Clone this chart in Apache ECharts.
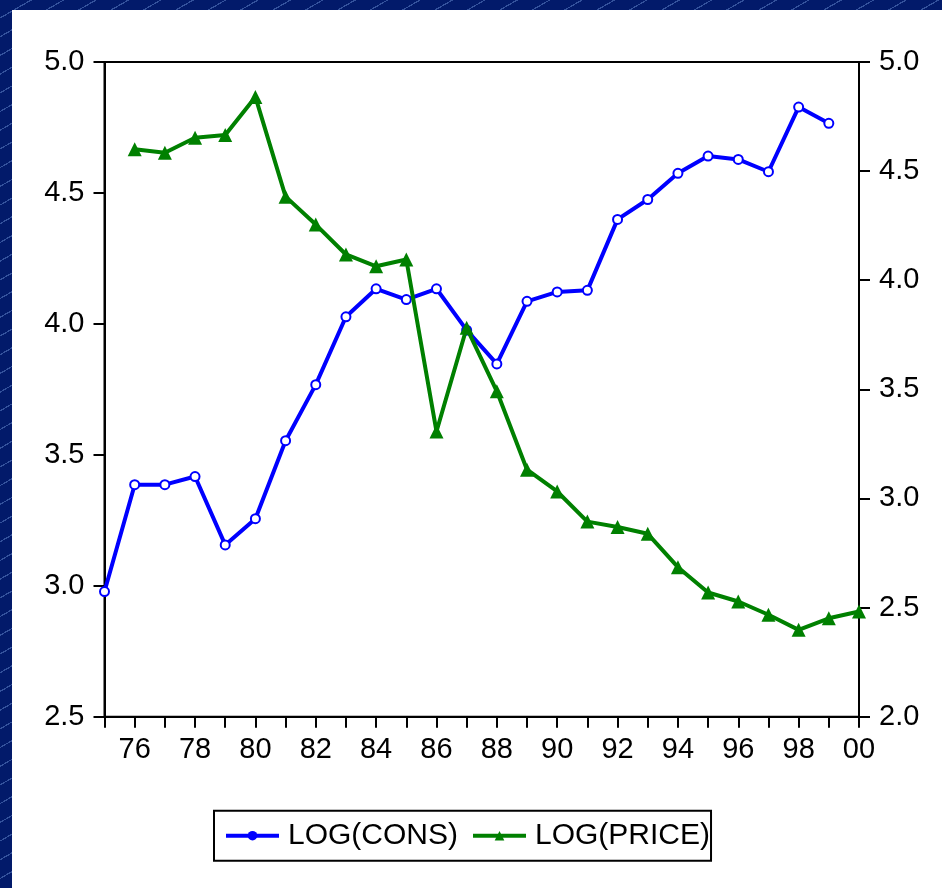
<!DOCTYPE html>
<html>
<head>
<meta charset="utf-8">
<script src="https://cdn.jsdelivr.net/npm/echarts@6/dist/echarts.min.js"></script>
<style>
html,body{margin:0;padding:0;width:942px;height:888px;overflow:hidden;}
body{background:#021a6a repeating-linear-gradient(150deg,#021a6a 0px,#021a6a 15px,#34529c 15px,#34529c 16.2px);}
#chart{position:absolute;left:12px;top:10px;width:930px;height:878px;background:#ffffff;}
</style>
</head>
<body>
<div id="chart"></div>
<script>
// Year categories (two-digit labels), 1975..2000
const years = ['75','76','77','78','79','80','81','82','83','84','85','86','87','88','89','90','91','92','93','94','95','96','97','98','99','00'];
// LOG(CONS): 1975..1999 (left axis)
const logCons = [2.978,3.386,3.386,3.417,3.156,3.256,3.554,3.768,4.027,4.134,4.093,4.134,3.976,3.847,4.086,4.122,4.128,4.399,4.475,4.575,4.641,4.628,4.581,4.828,4.766];
// LOG(PRICE): 1976..2000 (right axis)
const logPrice = [4.600,4.584,4.653,4.665,4.840,4.383,4.255,4.118,4.064,4.095,3.307,3.782,3.491,3.132,3.032,2.894,2.869,2.838,2.685,2.569,2.528,2.467,2.398,2.451,2.482];
// Axis ranges
const leftAxisRange = [2.5, 5.0];
const rightAxisRange = [2.0, 5.0];

const consData = logCons.concat([null]);
const priceData = [null].concat(logPrice);

const FONT = "'Liberation Sans',Arial,sans-serif";
const chart = echarts.init(document.getElementById('chart'), null, {renderer:'canvas'});

const yAxisCommon = {
  type:'value', interval:0.5,
  splitLine:{show:false},
  axisLine:{show:true,lineStyle:{color:'#000',width:2}},
  axisTick:{show:true,length:11,lineStyle:{color:'#000',width:2}},
  axisLabel:{color:'#000',fontFamily:FONT,fontSize:29,margin:20,formatter:v=>v.toFixed(1)}
};

chart.setOption({
  animation:false,
  backgroundColor:'#ffffff',
  grid:{left:92.5,right:83,top:52,bottom:171.3,show:true,borderColor:'#000',borderWidth:2,backgroundColor:'transparent'},
  legend:{
    left:202, top:800.7,
    orient:'horizontal',
    itemWidth:53, itemHeight:12, itemGap:13,
    padding:[10,1,10,10],
    borderColor:'#000', borderWidth:2, borderRadius:0,
    backgroundColor:'#fff',
    lineStyle:{width:4},
    textStyle:{color:'#000',fontFamily:FONT,fontSize:30,padding:[0,0,0,4]},
    data:['LOG(CONS)','LOG(PRICE)']
  },
  xAxis:{
    type:'category', data:years, boundaryGap:false,
    axisLine:{show:true,lineStyle:{color:'#000',width:2}},
    axisTick:{show:true,interval:0,length:11,lineStyle:{color:'#000',width:2}},
    axisLabel:{color:'#000',fontFamily:FONT,fontSize:29,margin:19,interval:(i)=>i%2===1},
    splitLine:{show:false}
  },
  yAxis:[
    Object.assign({}, yAxisCommon, {position:'left', min:leftAxisRange[0], max:leftAxisRange[1]}),
    Object.assign({}, yAxisCommon, {position:'right', min:rightAxisRange[0], max:rightAxisRange[1]})
  ],
  series:[
    {
      // legend-only entry (no data) so the legend shows a filled circle
      name:'LOG(CONS)', type:'line', yAxisIndex:0, data:[],
      symbol:'circle', symbolSize:8,
      lineStyle:{color:'#0000ff',width:4},
      itemStyle:{color:'#0000ff'}
    },
    {
      name:'LOG(CONS)', type:'line', yAxisIndex:0, data:consData,
      symbol:'emptyCircle', symbolSize:9, showSymbol:true,
      lineStyle:{color:'#0000ff',width:4},
      itemStyle:{color:'#0000ff',borderColor:'#0000ff',borderWidth:3},
      connectNulls:false, z:2
    },
    {
      name:'LOG(PRICE)', type:'line', yAxisIndex:1, data:priceData,
      symbol:'triangle', symbolSize:[14,14], showSymbol:true,
      lineStyle:{color:'#008000',width:4},
      itemStyle:{color:'#008000'},
      connectNulls:false, z:3
    }
  ]
});
</script>
</body>
</html>
